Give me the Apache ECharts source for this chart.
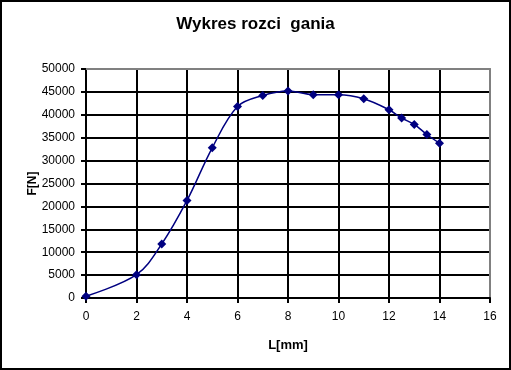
<!DOCTYPE html>
<html><head><meta charset="utf-8">
<script src="https://cdn.jsdelivr.net/npm/echarts@6/dist/echarts.min.js"></script>
<style>html,body{margin:0;padding:0;background:#fff}#c{width:511px;height:370px;box-sizing:border-box;border:2px solid #000}</style>
</head><body><div id="c"></div>
<script>
const lengths = [0, 2, 3, 4, 5, 6, 7, 8, 9, 10, 11, 12, 12.5, 13, 13.5, 14];
const forces = [400, 5100, 11800, 21300, 32800, 41800, 44200, 45200, 44400, 44400, 43500, 41100, 39300, 37900, 35700, 33800];
const titleText = 'Wykres rozci  gania';
const xName = 'L[mm]';
const yName = 'F[N]';

const chart = echarts.init(document.getElementById('c'), null, {renderer:'canvas'});
const font = '"Liberation Sans", Arial, sans-serif';
const borderAxis = (pos, max) => ({type:'value', position:pos, min:0, max:max,
  axisLine:{show:true, onZero:false, lineStyle:{color:'#808080', width:2}},
  axisTick:{show:false}, axisLabel:{show:false}, splitLine:{show:false}});
chart.setOption({
  backgroundColor: '#fff',
  animation: false,
  title: {text: titleText, left: 'center', top: 9, textStyle: {fontFamily: font, fontSize: 17, fontWeight: 'bold', color: '#000'}},
  grid: {left: 84, right: 19, top: 67, bottom: 70},
  xAxis: [{
    type: 'value', min: 0, max: 16, interval: 2,
    name: xName, nameLocation: 'middle', nameGap: 41, nameMoveOverlap: false,
    nameTextStyle: {fontFamily: font, fontSize: 13, fontWeight: 'bold', color: '#000'},
    axisLine: {show: true, onZero: false, lineStyle: {color: '#000', width: 2}},
    axisTick: {show: true, inside: false, length: 5, lineStyle: {color: '#000', width: 2}},
    axisLabel: {fontFamily: font, fontSize: 12, color: '#000', margin: 13},
    splitLine: {show: true, lineStyle: {color: '#000', width: 2}}
  }, borderAxis('top', 16)],
  yAxis: [{
    type: 'value', min: 0, max: 50000, interval: 5000,
    name: yName, nameLocation: 'middle', nameGap: 47, nameRotate: 90, nameMoveOverlap: false,
    nameTextStyle: {fontFamily: font, fontSize: 12, fontWeight: 'bold', color: '#000'},
    axisLine: {show: true, onZero: false, lineStyle: {color: '#000', width: 2}},
    axisTick: {show: true, inside: false, length: 5, lineStyle: {color: '#000', width: 2}},
    axisLabel: {fontFamily: font, fontSize: 12, color: '#000', margin: 11, formatter: v => String(v)},
    splitLine: {show: true, lineStyle: {color: '#000', width: 2}}
  }, borderAxis('right', 50000)],
  series: [{
    type: 'line',
    data: lengths.map((x, i) => [x, forces[i]]),
    smooth: 0.35,
    symbol: 'diamond', symbolSize: 9,
    itemStyle: {color: '#000080'},
    lineStyle: {color: '#000080', width: 1.5},
    z: 5
  }]
});
</script></body></html>
